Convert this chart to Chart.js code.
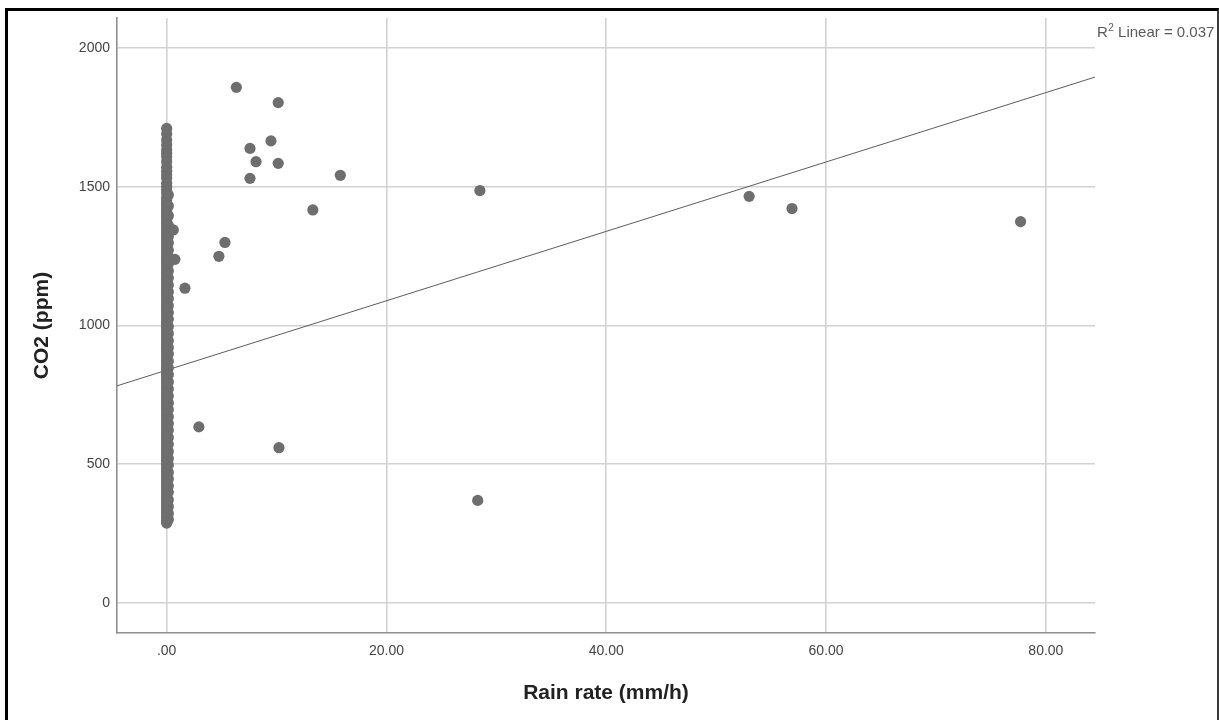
<!DOCTYPE html>
<html>
<head>
<meta charset="utf-8">
<script src="https://cdn.jsdelivr.net/npm/chart.js@4.4.1/dist/chart.umd.min.js"></script>
<style>
html,body{margin:0;padding:0;background:#fff;width:1219px;height:720px;overflow:hidden}
#wrap{position:absolute;left:0;top:0;width:1219px;height:720px}
#frame{position:absolute;left:5px;top:8px;width:1214px;height:730px;border-left:3px solid #000;border-top:3px solid #000;border-right:2px solid #3a3a3a;box-sizing:border-box;pointer-events:none}
</style>
</head>
<body>
<div id="wrap"><canvas id="c" width="1219" height="720"></canvas></div>
<div id="frame"></div>
<script>
// CO2 readings recorded with rain rate 0 (dense column at x = 0)
const co2AtZeroRain = [287, 295, 303, 310, 318, 326, 333, 341, 350, 358, 366, 374, 382, 391, 399, 407, 416, 424, 432, 441, 449, 457, 466, 474, 482, 491, 499, 507, 516, 524, 532, 541, 549, 557, 566, 574, 582, 591, 599, 607, 616, 624, 632, 641, 649, 657, 666, 674, 682, 691, 699, 707, 716, 724, 732, 741, 749, 757, 766, 774, 782, 791, 799, 807, 816, 824, 832, 841, 849, 857, 866, 874, 882, 891, 899, 907, 916, 924, 932, 941, 949, 957, 966, 974, 982, 991, 999, 1008, 1016, 1024, 1033, 1041, 1049, 1058, 1066, 1074, 1083, 1091, 1099, 1108, 1116, 1124, 1133, 1141, 1149, 1158, 1166, 1174, 1183, 1191, 1199, 1208, 1216, 1224, 1233, 1241, 1249, 1258, 1266, 1274, 1283, 1291, 1299, 1308, 1316, 1324, 1333, 1341, 1349, 1358, 1366, 1374, 1383, 1391, 1399, 1408, 1416, 1424, 1433, 1441, 1452, 1462, 1477, 1488, 1500, 1512, 1531, 1542, 1556, 1570, 1590, 1608, 1620, 1632, 1650, 1668, 1690, 1710];
// readings with very light rain (~0.15 mm/h)
const co2AtLightRain = [300, 322, 347, 371, 398, 421, 446, 470, 497, 520, 545, 571, 596, 622, 646, 671, 697, 720, 745, 771, 796, 822, 846, 871, 897, 920, 945, 971, 996, 1022, 1046, 1071, 1097, 1120, 1145, 1171, 1196, 1222, 1246, 1271, 1297, 1320, 1360, 1395, 1430, 1470];
const lightRainRate = 0.15;
// remaining individual observations
const rainRate = [0.6, 0.75, 1.66, 2.93, 4.75, 5.3, 6.34, 7.58, 7.58, 8.13, 9.49, 10.15, 10.15, 10.22, 13.3, 15.8, 28.3, 28.5, 53.0, 56.9, 77.7];
const co2Ppm   = [1344, 1238, 1134, 634, 1249, 1299, 1858, 1638, 1530, 1590, 1665, 1803, 1584, 559, 1416, 1541, 369, 1486, 1465, 1421, 1374];
// fitted linear regression line end points (R² = 0.037)
const fitLineX = [-4.52, 84.47];
const fitLineY = [782, 1895];
// axis ticks
const xTicks = [0, 20, 40, 60, 80];
const xTickLabels = ['.00', '20.00', '40.00', '60.00', '80.00'];
const yTicks = [0, 500, 1000, 1500, 2000];
const yTickLabels = ['0', '500', '1000', '1500', '2000'];
const r2Label = { prefix: 'R', sup: '2', rest: ' Linear = 0.037' };

const points = [];
co2AtZeroRain.forEach(v => points.push({x: 0, y: v}));
co2AtLightRain.forEach(v => points.push({x: lightRainRate, y: v}));
rainRate.forEach((r, i) => points.push({x: r, y: co2Ppm[i]}));
const fitPts = fitLineX.map((x, i) => ({x: x, y: fitLineY[i]}));

const FONT = "'Liberation Sans', Arial, sans-serif";

const r2Plugin = {
  id: 'r2',
  afterDraw(chart) {
    const ctx = chart.ctx;
    ctx.save();
    ctx.fillStyle = '#5a5a5a';
    ctx.textBaseline = 'alphabetic';
    ctx.textAlign = 'left';
    let x = 1097, y = 37;
    ctx.font = "15px " + FONT;
    ctx.fillText(r2Label.prefix, x, y);
    x += ctx.measureText(r2Label.prefix).width + 0.5;
    ctx.font = "10px " + FONT;
    ctx.fillText(r2Label.sup, x, y - 6);
    x += ctx.measureText(r2Label.sup).width;
    ctx.font = "15px " + FONT;
    ctx.fillText(r2Label.rest, x, y);
    ctx.restore();
  }
};

new Chart(document.getElementById('c'), {
  type: 'scatter',
  data: {
    datasets: [
      {
        label: 'CO2',
        data: points,
        backgroundColor: '#6e6e6e',
        borderWidth: 0,
        pointRadius: 5.6,
        pointHoverRadius: 5.6
      },
      {
        type: 'line',
        label: 'Fit',
        data: fitPts,
        borderColor: '#5c5c5c',
        borderWidth: 1,
        pointRadius: 0,
        fill: false,
        showLine: true
      }
    ]
  },
  options: {
    responsive: false,
    animation: false,
    devicePixelRatio: 1,
    layout: { padding: { left: 0, top: 18, right: 124, bottom: 0 } },
    plugins: { legend: { display: false }, tooltip: { enabled: false } },
    scales: {
      x: {
        type: 'linear',
        min: -4.52,
        max: 84.47,
        afterBuildTicks: s => { s.ticks = xTicks.map(v => ({value: v})); },
        afterFit: s => { s.height = 87; },
        ticks: {
          callback: (v, i) => xTickLabels[i],
          font: { family: FONT, size: 14 },
          color: '#444',
          padding: 10,
          maxRotation: 0
        },
        grid: { color: '#d2d2d2', lineWidth: 1.6, drawTicks: false },
        border: { display: true, color: '#8f8f8f', width: 1.6 },
        title: {
          display: true,
          text: 'Rain rate (mm/h)',
          font: { family: FONT, size: 21, weight: 'bold' },
          color: '#222',
          padding: { top: 0, bottom: 14 }
        }
      },
      y: {
        type: 'linear',
        min: -109,
        max: 2108,
        afterBuildTicks: s => { s.ticks = yTicks.map(v => ({value: v})); },
        afterFit: s => { s.width = 117; },
        ticks: {
          callback: (v, i) => yTickLabels[i],
          font: { family: FONT, size: 14 },
          color: '#444',
          padding: 7
        },
        grid: { color: '#d2d2d2', lineWidth: 1.6, drawTicks: false },
        border: { display: true, color: '#8f8f8f', width: 1.6 },
        title: {
          display: true,
          text: 'CO2 (ppm)',
          font: { family: FONT, size: 21, weight: 'bold' },
          color: '#222',
          padding: { top: 30, bottom: 0 }
        }
      }
    }
  },
  plugins: [r2Plugin]
});
</script>
</body>
</html>
